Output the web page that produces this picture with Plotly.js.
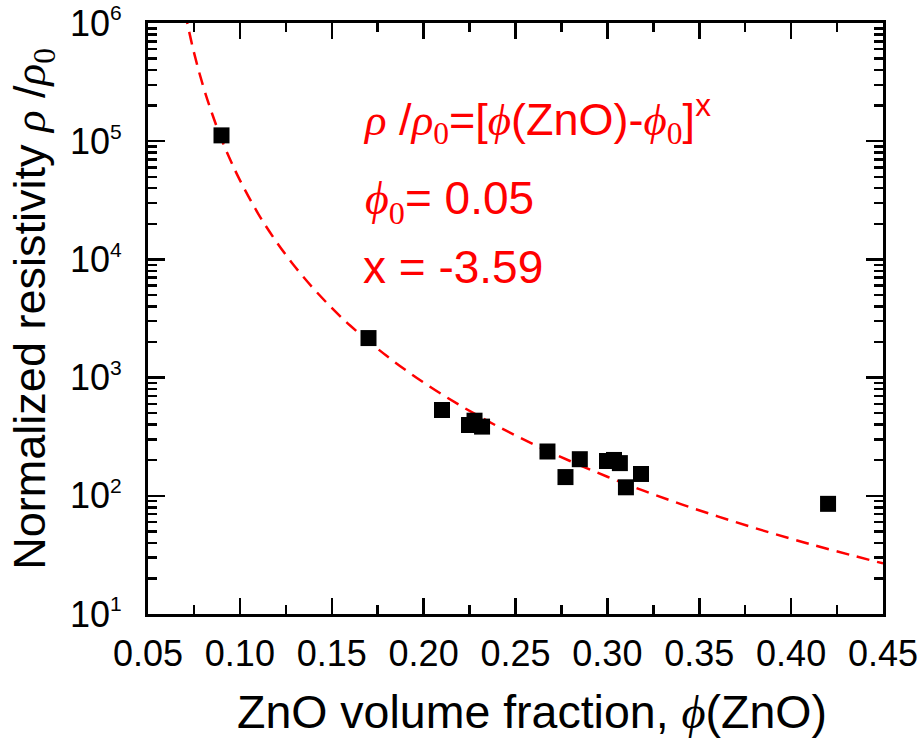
<!DOCTYPE html>
<html>
<head>
<meta charset="utf-8">
<script src="https://cdn.plot.ly/plotly-3.0.1.min.js"></script>
<style>html,body{margin:0;padding:0;background:#fff;}#chart{width:924px;height:750px;}</style>
</head>
<body>
<div id="chart"></div>
<script>
// Measured data points (ZnO volume fraction vs normalized resistivity)
const phiZnO = [0.090, 0.170, 0.210, 0.2247, 0.2277, 0.2318, 0.2674, 0.2772, 0.2850, 0.2998, 0.3036, 0.3068, 0.3101, 0.3183, 0.4201];
const rhoNorm = [112000, 2160, 532, 397, 432, 385, 237, 144, 204, 197, 201, 189, 118, 153, 85.5];

// Fit curve (dashed red line)
const fitPhi = [0.070, 0.075, 0.080, 0.085, 0.090, 0.095, 0.100, 0.110, 0.120, 0.130, 0.140, 0.150, 0.160, 0.180, 0.200, 0.220, 0.240, 0.260, 0.280, 0.300, 0.320, 0.340, 0.360, 0.380, 0.400, 0.420, 0.450];
const fitRho = [1260000, 564000, 293000, 169000, 104000, 68400, 46900, 24300, 14000, 8670, 5680, 3890, 2760, 1520, 908, 580, 389, 272, 196, 145, 110, 85.1, 67.0, 53.5, 43.3, 35.5, 26.8];

// Axis tick labels
const xTickVals = [0.05, 0.10, 0.15, 0.20, 0.25, 0.30, 0.35, 0.40, 0.45];
const xTickText = ['0.05', '0.10', '0.15', '0.20', '0.25', '0.30', '0.35', '0.40', '0.45'];
const yTickVals = [10, 100, 1000, 10000, 100000, 1000000];
const yExponents = ['1', '2', '3', '4', '5', '6'];

const SANS = 'Liberation Sans, Arial, sans-serif';
const SERIF = 'Liberation Serif, Times New Roman, serif';
const gr = (s) => '<span style="font-family:' + SERIF + '"><i>' + s + '</i></span>';
const sub0 = '<sub><span style="font-family:' + SERIF + '">0</span></sub>';
const yTickText = yExponents.map(e => '10<sup><span style="font-size:21px">' + e + '</span></sup>');

const traces = [
  {
    x: fitPhi, y: fitRho, mode: 'lines', type: 'scatter',
    line: {color: '#ff0000', width: 2.5, dash: '13px,8px', shape: 'spline'},
    hoverinfo: 'skip'
  },
  {
    x: phiZnO, y: rhoNorm, mode: 'markers', type: 'scatter',
    marker: {symbol: 'square', size: 16, color: '#000000', line: {width: 0}}
  }
];

const axisCommon = {
  showgrid: false, zeroline: false, showline: true, linecolor: '#000', linewidth: 3,
  mirror: 'ticks', ticks: 'inside', tickcolor: '#000', tickwidth: 2.5,
  tickfont: {family: SANS, size: 36, color: '#000'}, ticklabeloverflow: 'allow'
};

const layout = {
  width: 924, height: 750,
  margin: {l: 148, r: 41, t: 23, b: 136},
  paper_bgcolor: '#fff', plot_bgcolor: '#fff',
  showlegend: false,
  xaxis: Object.assign({}, axisCommon, {
    range: [0.05, 0.45], tickvals: xTickVals, ticktext: xTickText,
    ticklen: 16, ticklabelstandoff: 6,
    minor: {dtick: 0.025, tick0: 0.05, ticks: 'inside', ticklen: 9, tickwidth: 2.5, tickcolor: '#000', showgrid: false}
  }),
  yaxis: Object.assign({}, axisCommon, {
    type: 'log', range: [1, 6], tickvals: yTickVals, ticktext: yTickText,
    ticklen: 17, ticklabelstandoff: 16,
    minor: {dtick: 'D1', ticks: 'inside', ticklen: 9, tickwidth: 2.5, tickcolor: '#000', showgrid: false}
  }),
  annotations: [
    {
      xref: 'paper', yref: 'paper', x: 0.29, y: 0.837, xanchor: 'left', yanchor: 'middle',
      showarrow: false, align: 'left',
      text: gr('ρ') + ' /' + gr('ρ') + sub0 + '=[' + gr('ϕ') + '(ZnO)-' + gr('ϕ') + sub0 + ']<sup>x</sup>',
      font: {family: SANS, size: 45, color: '#ff0000'}
    },
    {
      xref: 'paper', yref: 'paper', x: 0.292, y: 0.6985, xanchor: 'left', yanchor: 'middle',
      showarrow: false, align: 'left',
      text: gr('ϕ') + sub0 + '= 0.05',
      font: {family: SANS, size: 46, color: '#ff0000'}
    },
    {
      xref: 'paper', yref: 'paper', x: 0.29, y: 0.587, xanchor: 'left', yanchor: 'middle',
      showarrow: false, align: 'left',
      text: 'x = -3.59',
      font: {family: SANS, size: 46, color: '#ff0000'}
    },
    {
      xref: 'paper', yref: 'paper', x: -0.1565, y: 0.5166, xanchor: 'center', yanchor: 'middle',
      showarrow: false, textangle: -90,
      text: 'Normalized resistivity ' + gr('ρ') + ' /' + gr('ρ') + sub0,
      font: {family: SANS, size: 45, color: '#000'}
    },
    {
      xref: 'paper', yref: 'paper', x: 0.523, y: -0.1657, xanchor: 'center', yanchor: 'middle',
      showarrow: false,
      text: 'ZnO volume fraction, ' + gr('ϕ') + '(ZnO)',
      font: {family: SANS, size: 46.5, color: '#000'}
    }
  ]
};

Plotly.newPlot('chart', traces, layout, {displayModeBar: false, staticPlot: true});
</script>
</body>
</html>
